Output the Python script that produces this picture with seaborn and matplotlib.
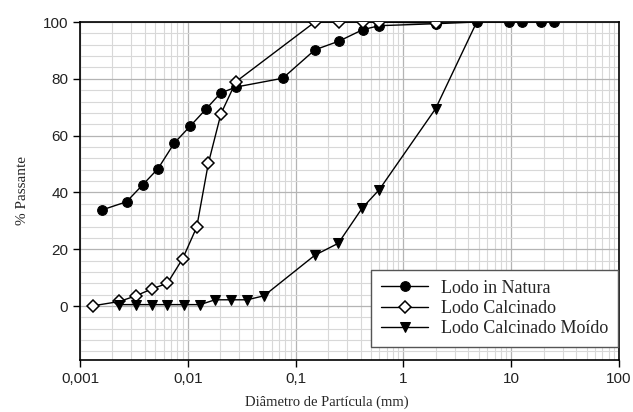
import matplotlib
matplotlib.use('Agg')
import matplotlib.pyplot as plt
import seaborn as sns
from matplotlib.ticker import FixedLocator, LogLocator, MultipleLocator, NullFormatter

# --- data ---
natura_x = [0.00159, 0.0027, 0.0038, 0.0053, 0.0075, 0.0105, 0.0148, 0.0202, 0.028,
            0.076, 0.151, 0.254, 0.419, 0.598, 2.0, 4.79, 9.6, 12.5, 18.9, 25.1]
natura_y = [33.8, 36.7, 42.6, 48.4, 57.4, 63.3, 69.4, 75.0, 77.1,
            80.2, 90.2, 93.3, 97.3, 98.7, 99.4, 100, 100, 100, 100, 100]

calc_x = [0.00133, 0.00232, 0.0033, 0.00462, 0.00646, 0.00897, 0.0121, 0.0155, 0.0203,
          0.028, 0.151, 0.254, 0.419, 0.598, 2.0]
calc_y = [0.1, 1.6, 3.6, 6.0, 8.0, 16.7, 27.8, 50.2, 67.7,
          79.0, 100, 100, 100, 100, 99.6]

moido_x = [0.00232, 0.0033, 0.00462, 0.00646, 0.0092, 0.013, 0.0179, 0.025, 0.0356,
           0.0509, 0.151, 0.249, 0.415, 0.598, 1.99, 4.79]
moido_y = [0.5, 0.5, 0.5, 0.5, 0.5, 0.5, 2.2, 2.2, 2.2,
           3.6, 17.9, 22.1, 34.5, 41.0, 69.5, 100]

x_ticks = [0.001, 0.01, 0.1, 1, 10, 100]
x_tick_labels = ['0,001', '0,01', '0,1', '1', '10', '100']
y_ticks = [0, 20, 40, 60, 80, 100]

sns.set_style('white')
serif = ['Liberation Serif', 'DejaVu Serif']
sans = ['Liberation Sans', 'DejaVu Sans']

fig = plt.figure(figsize=(6.33, 4.12), dpi=100)
ax = fig.add_axes([80 / 633, 1 - 360 / 412, (619 - 80) / 633, (360 - 22) / 412])

sns.lineplot(x=natura_x, y=natura_y, ax=ax, sort=False, color='black', lw=1,
             marker='o', markersize=7, markerfacecolor='black', markeredgecolor='black',
             label='Lodo in Natura', zorder=3)
sns.lineplot(x=calc_x, y=calc_y, ax=ax, sort=False, color='black', lw=1,
             marker='D', markersize=6.5, markerfacecolor='white', markeredgecolor='black',
             markeredgewidth=1.1, label='Lodo Calcinado', zorder=4)
sns.lineplot(x=moido_x, y=moido_y, ax=ax, sort=False, color='black', lw=1,
             marker='v', markersize=7.5, markerfacecolor='black', markeredgecolor='black',
             label='Lodo Calcinado Moído', zorder=5)

ax.set_xscale('log')
ax.set_xlim(0.001, 100)
ax.set_ylim(-19, 100)

ax.xaxis.set_major_locator(FixedLocator(x_ticks))
ax.set_xticklabels(x_tick_labels)
ax.xaxis.set_minor_locator(LogLocator(base=10, subs=range(2, 10), numticks=20))
ax.xaxis.set_minor_formatter(NullFormatter())
ax.yaxis.set_major_locator(FixedLocator(y_ticks))
ax.yaxis.set_minor_locator(MultipleLocator(4))

ax.grid(which='major', color='#b4b4b4', lw=0.9, zorder=0)
ax.grid(which='minor', color='#d8d8d8', lw=0.8, zorder=0)
ax.set_axisbelow(True)

ax.tick_params(which='major', direction='out', length=5, width=1, color='black',
               labelsize=11, labelcolor='#222222', bottom=True, left=True, top=False, right=False)
ax.tick_params(which='minor', length=0)
for lab in ax.get_xticklabels() + ax.get_yticklabels():
    lab.set_family(sans)

for sp in ax.spines.values():
    sp.set_color('black')
    sp.set_linewidth(1.2)

ax.set_xlabel('Diâmetro de Partícula (mm)', family=serif, fontsize=10.5, va='center')
ax.xaxis.set_label_coords(0.458, -0.124)
ax.set_ylabel('% Passante', family=serif, fontsize=11, va='center')
ax.yaxis.set_label_coords(-0.106, 0.5)

leg = ax.legend(loc='lower right', bbox_to_anchor=(0.998, 0.038), frameon=True, fancybox=False,
                prop={'family': serif, 'size': 13}, handlelength=2.6, handletextpad=0.7,
                borderpad=0.55, labelspacing=0.18, borderaxespad=0)
leg.get_frame().set_edgecolor('#555555')
leg.get_frame().set_linewidth(1)
leg.get_frame().set_alpha(1)

fig.savefig('out.png', dpi=100)
